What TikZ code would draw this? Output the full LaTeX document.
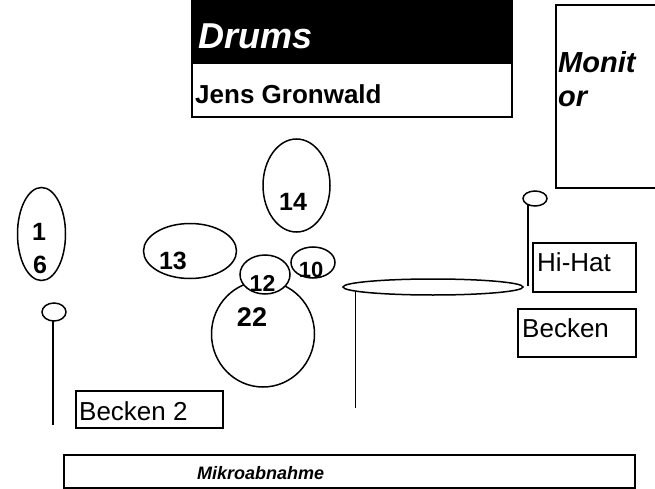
\documentclass[tikz,border=0pt]{standalone}
\usepackage{fontspec}
\setmainfont{Liberation Sans}
\usetikzlibrary{shapes.geometric}
\begin{document}
\begin{tikzpicture}[x=1pt,y=-1pt,
  drum/.style={ellipse, draw, line width=1.5pt, fill=white, inner sep=0pt, outer sep=0pt},
  num/.style={font=\fontsize{25}{25}\selectfont\bfseries, inner sep=0pt, anchor=base},
  lbox/.style={rectangle, draw, line width=1.5pt, inner sep=0pt, outer sep=0pt, anchor=north west},
  txt/.style={font=\fontsize{26}{26}\selectfont, inner sep=0pt, anchor=base west},
  bit/.style={font=\fontsize{#1}{#1}\selectfont\bfseries\itshape, inner sep=0pt, anchor=base west},
  stand/.style={line width=1.5pt}
]
\useasboundingbox (0,0) rectangle (655,489);
\begin{scope}
\clip (0,0) rectangle (655,489);
% title block
\node[lbox, fill=black, minimum width=320pt, minimum height=63pt] (title) at (192,0) {};
\node[lbox, fill=white, minimum width=320pt, minimum height=54pt] (namebox) at (192,63) {};
\draw[line width=2pt] (192,0) rectangle (512,117);
\node[bit=36, text=white] (drums) at (198,49) {Drums};
\node[font=\fontsize{26}{26}\selectfont\bfseries, inner sep=0pt, anchor=base west] (jens) at (195,104) {Jens Gronwald};
% monitor
\node[lbox, minimum width=110pt, minimum height=183pt] (monbox) at (556,5) {};
\node[bit=29] (monit) at (558,73) {Monit};
\node[bit=29] (mor) at (558,107) {or};
% drums
\node[drum, minimum width=48pt, minimum height=93pt] (e16) at (41.5,234) {};
\node[num] (t1) at (39,240) {1};
\node[num] (t6) at (40,273) {6};
\node[drum, minimum width=93pt, minimum height=55pt] (e13) at (190,251) {};
\node[num] (t13) at (173,269) {13};
\node[drum, minimum width=67pt, minimum height=93pt] (e14) at (296.5,185.5) {};
\node[num] (t14) at (293,210) {14};
\node[drum, minimum width=103pt, minimum height=106pt] (e22) at (263,334) {};
\node[num, font=\fontsize{27}{27}\selectfont\bfseries] (t22) at (252,326) {22};
\node[drum, minimum width=50pt, minimum height=39pt] (e12) at (265,274.5) {};
\node[num, font=\fontsize{23}{23}\selectfont\bfseries] (t12) at (262.5,291) {12};
\node[drum, minimum width=44pt, minimum height=31pt] (e10) at (313,262.5) {};
\node[num, font=\fontsize{22}{22}\selectfont\bfseries] (t10) at (311,277) {10};
% left cymbal
\node[drum, minimum width=24pt, minimum height=18pt] (lc) at (54,312) {};
\coordinate (lcend) at (53,425);
\draw[stand] (lc.south -| lcend) -- (lcend);
% ride cymbal
\node[drum, minimum width=180pt, minimum height=16pt] (rc) at (433,287) {};
\coordinate (rcend) at (357,408);
\draw[stand] (rc.183.2) -- (rc.183.2 |- rcend);
% hi-hat
\node[drum, minimum width=24pt, minimum height=15pt] (hh) at (535,198.5) {};
\coordinate (hhend) at (528,286);
\draw[stand] (hh.221) -- (hh.221 |- hhend);
% labels
\node[lbox, minimum width=103pt, minimum height=49pt] (hibox) at (533,243) {};
\node[txt] (hitxt) at (537,271) {Hi-Hat};
\node[lbox, minimum width=118pt, minimum height=48pt] (bbox) at (518,309) {};
\node[txt] (btxt) at (522,337) {Becken};
\node[lbox, minimum width=147pt, minimum height=37pt] (b2box) at (76,391) {};
\node[txt] (b2txt) at (79,420) {Becken 2};
\node[lbox, minimum width=571pt, minimum height=33pt] (mikbox) at (64,455) {};
\node[bit=18] (miktxt) at (197,479) {Mikroabnahme};
\end{scope}
\end{tikzpicture}
\end{document}
